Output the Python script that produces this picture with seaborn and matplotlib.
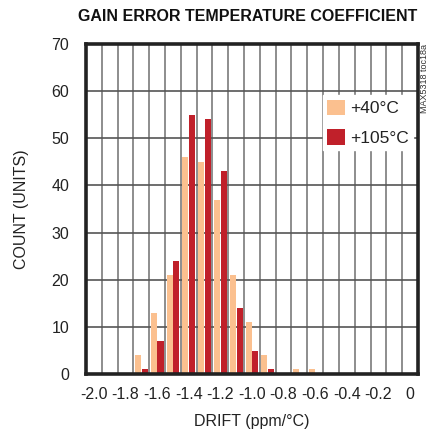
import numpy as np
import pandas as pd
import matplotlib
matplotlib.use("Agg")
import matplotlib.pyplot as plt
import seaborn as sns
from matplotlib.patches import Patch

# Drift bins (ppm/°C) and counts
drift = [-2.0, -1.9, -1.8, -1.7, -1.6, -1.5, -1.4, -1.3, -1.2, -1.1, -1.0,
         -0.9, -0.8, -0.7, -0.6, -0.5, -0.4, -0.3, -0.2, -0.1, 0.0]
count_40 = [0, 0, 0, 4, 13, 21, 46, 45, 37, 21, 11, 4, 0, 1, 1, 0, 0, 0, 0, 0, 0]
count_105 = [0, 0, 0, 1, 7, 24, 55, 54, 43, 14, 5, 1, 0, 0, 0, 0, 0, 0, 0, 0, 0]
series = ["+40°C", "+105°C"]
colors = ["#FBC08F", "#C0202A"]

xticks = [-2.0, -1.8, -1.6, -1.4, -1.2, -1.0, -0.8, -0.6, -0.4, -0.2, 0.0]
xtick_labels = ["-2.0", "-1.8", "-1.6", "-1.4", "-1.2", "-1.0", "-0.8",
                "-0.6", "-0.4", "-0.2", "0"]
yticks = [0, 10, 20, 30, 40, 50, 60, 70]

df = pd.DataFrame({
    "drift": np.round(drift * 2, 2),
    "count": count_40 + count_105,
    "temp": [series[0]] * len(drift) + [series[1]] * len(drift),
})

sns.set_style("white")
plt.rcParams["font.family"] = ["Liberation Sans", "DejaVu Sans"]

fig = plt.figure(figsize=(4.30, 4.36), dpi=100)
ax = fig.add_axes([0.2, 0.142, 0.772, 0.757])

sns.barplot(data=df, x="drift", y="count", hue="temp", hue_order=series,
            palette=colors, native_scale=True, width=0.85, gap=0.1,
            linewidth=0, saturation=1, legend=False, ax=ax, zorder=3)

ax.set_xlim(-2.05, 0.05)
ax.set_ylim(0, 70)
ax.set_xticks(xticks)
ax.set_xticklabels(xtick_labels)
ax.set_xticks(np.arange(-1.95, 0.0, 0.1), minor=True)
ax.set_yticks(yticks)
ax.grid(False)
ax.grid(True, which="minor", axis="x", color="#7a7a7a", lw=1.2, zorder=0)
ax.grid(True, which="major", axis="y", color="#555555", lw=1.2, zorder=0)
ax.set_axisbelow(True)
ax.tick_params(which="both", length=0, labelsize=11.5, colors="#222222")
ax.tick_params(axis="x", pad=9)
ax.tick_params(axis="y", pad=12)

for s in ax.spines.values():
    s.set_color("#222222")
    s.set_linewidth(2.6)
    s.set_zorder(5)

ax.set_xlabel("DRIFT (ppm/°C)", fontsize=11.5, color="#222222")
ax.set_ylabel("COUNT (UNITS)", fontsize=11.5, color="#222222")
ax.xaxis.set_label_coords(0.5, -0.145)
ax.yaxis.set_label_coords(-0.193, 0.5)
ax.xaxis.label.set_va("center")
ax.yaxis.label.set_va("center")

handles = [Patch(facecolor=c, edgecolor="none") for c in colors]
leg = ax.legend(handles, series, loc="upper right", bbox_to_anchor=(0.985, 0.845),
                frameon=True, fancybox=False, framealpha=1, edgecolor="white",
                fontsize=12.5, handlelength=1.0, handleheight=1.0,
                handletextpad=0.3, labelspacing=0.75, borderpad=0.25,
                borderaxespad=0)
for t in leg.get_texts():
    t.set_color("#222222")
leg.set_zorder(6)

fig.text(0.97, 0.963, "GAIN ERROR TEMPERATURE COEFFICIENT", ha="right",
         va="center", fontsize=11.5, fontweight="bold", color="#111111")
fig.text(0.988, 0.898, "MAX5318 toc18a", rotation=90, ha="center", va="top",
         fontsize=6.5, color="#333333")

fig.savefig("out.png", dpi=100)
